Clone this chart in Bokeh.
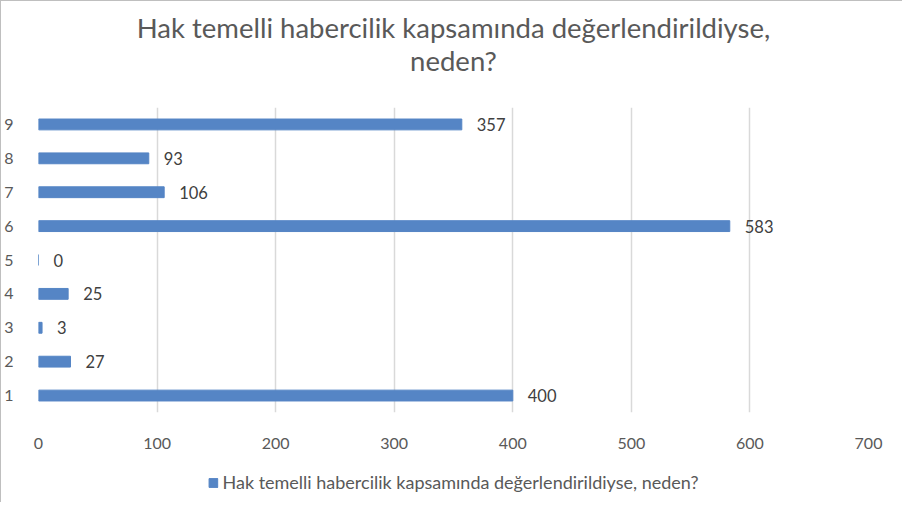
from bokeh.plotting import figure
from bokeh.layouts import column
from bokeh.models import Label, Legend, LegendItem, FixedTicker, ColumnDataSource, FactorRange, LabelSet, Range1d
from bokeh.core.properties import value
from bokeh.embed import file_html
from bokeh.resources import INLINE

categories = ["1", "2", "3", "4", "5", "6", "7", "8", "9"]
values = [400, 27, 3, 25, 0, 583, 106, 93, 357]
x_ticks = [0, 100, 200, 300, 400, 500, 600, 700]
title_line1 = "Hak temelli habercilik kapsamında değerlendirildiyse,"
title_line2 = "neden?"
series_name = "Hak temelli habercilik kapsamında değerlendirildiyse, neden?"

FONT = "Lato"
TXT = "#595959"
BAR = "#5585C5"
BORDER = "1px solid #bfbfbf"
W = 902

def strip(h):
    f = figure(width=W, height=h, output_backend="svg", toolbar_location=None,
               x_axis_location=None, y_axis_location=None,
               x_range=Range1d(0, W), y_range=Range1d(0, h),
               min_border_left=0, min_border_right=0, min_border_top=0, min_border_bottom=0)
    f.outline_line_color = None
    f.grid.grid_line_color = None
    return f

# header with the two-line title
HH = 100
hd = strip(HH)
hd.styles = {"border-left": BORDER, "border-top": BORDER}
for txt, yy in ((title_line1, HH - 26), (title_line2, HH - 59)):
    hd.add_layout(Label(x=W / 2, y=yy, text=txt, text_align="center", text_baseline="middle",
                        text_font=FONT, text_font_size="27.5px", text_color=TXT))

# main chart
src = ColumnDataSource(dict(cat=categories, val=values, lab=[str(v) for v in values]))
p = figure(width=W, height=362, output_backend="svg", toolbar_location=None,
           y_range=FactorRange(factors=categories), x_range=(0, 700),
           min_border_left=37, min_border_right=35, min_border_top=7, min_border_bottom=50)
p.outline_line_color = None
p.styles = {"border-left": BORDER}

r = p.hbar(y="cat", right="val", left=0, height=0.32, source=src, color=BAR)

labels = LabelSet(x="val", y="cat", text="lab", source=src, x_offset=15,
                  text_align="left", text_baseline="middle", text_font=value(FONT),
                  text_font_size="16.5px", text_color="#404040")
p.add_layout(labels)

p.xaxis.ticker = FixedTicker(ticks=x_ticks)
for ax in (p.xaxis[0], p.yaxis[0]):
    ax.axis_line_color = None
    ax.major_tick_line_color = None
    ax.minor_tick_line_color = None
    ax.major_label_text_font = FONT
    ax.major_label_text_font_size = "16px"
    ax.major_label_text_color = TXT
p.xaxis.major_label_standoff = 19
p.yaxis.major_label_standoff = 19

p.ygrid.grid_line_color = None
p.xgrid.grid_line_color = "#d9d9d9"
p.xgrid.grid_line_width = 1.5

# legend strip
lg = strip(40)
lg.styles = {"border-left": BORDER}
dummy = lg.hbar(y=[-1000], right=[1], left=0, height=0.32, color=BAR)
legend = Legend(items=[LegendItem(label=series_name, renderers=[dummy])],
                orientation="horizontal", location="center",
                glyph_width=11, glyph_height=11, label_text_font=FONT,
                label_text_font_size="18px", label_text_color=TXT,
                border_line_color=None, background_fill_alpha=0, padding=2, margin=0,
                label_standoff=4)
lg.add_layout(legend)

layout = column(hd, p, lg, spacing=0)
open("out.html", "w").write(file_html(layout, INLINE))
